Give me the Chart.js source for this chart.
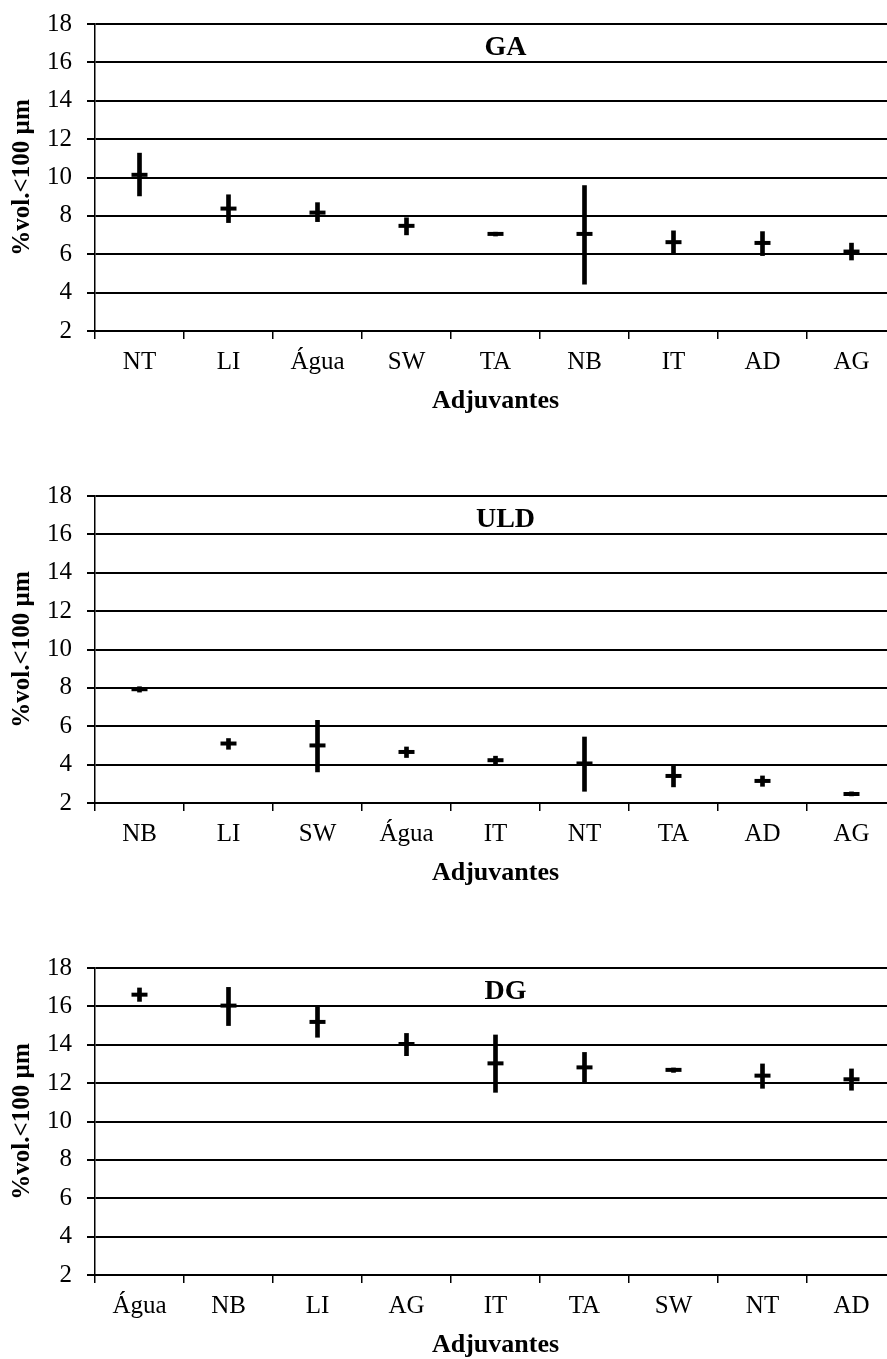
<!DOCTYPE html>
<html>
<head>
<meta charset="utf-8">
<script src="https://cdn.jsdelivr.net/npm/chart.js@4.4.1/dist/chart.umd.min.js"></script>
<style>
    body { margin: 0; background: #fff; width: 887px; overflow: hidden; }
    .panel { width: 887px; height: 472px; overflow: hidden; }
    canvas { display: block; }
</style>
</head>
<body>
<div class="panel"><canvas id="chartGA" width="896" height="472"></canvas></div>
<div class="panel"><canvas id="chartULD" width="896" height="472"></canvas></div>
<div class="panel"><canvas id="chartDG" width="896" height="472"></canvas></div>
<script>
// GA
const gaLabels = ['NT', 'LI', 'Água', 'SW', 'TA', 'NB', 'IT', 'AD', 'AG'];
const gaMean = [10.14, 8.38, 8.17, 7.48, 7.06, 7.06, 6.63, 6.59, 6.14];
const gaLow = [9.04, 7.65, 7.70, 7.01, 6.95, 4.44, 6.00, 5.93, 5.70];
const gaHigh = [11.27, 9.10, 8.69, 7.90, 7.15, 9.58, 7.22, 7.18, 6.58];

// ULD
const uldLabels = ['NB', 'LI', 'SW', 'Água', 'IT', 'NT', 'TA', 'AD', 'AG'];
const uldMean = [7.93, 5.10, 5.00, 4.66, 4.23, 4.06, 3.41, 3.15, 2.47];
const uldLow = [7.78, 4.80, 3.62, 4.37, 4.00, 2.61, 2.84, 2.87, 2.37];
const uldHigh = [8.06, 5.36, 6.31, 4.92, 4.44, 5.44, 3.97, 3.41, 2.58];

// DG
const dgLabels = ['Água', 'NB', 'LI', 'AG', 'IT', 'TA', 'SW', 'NT', 'AD'];
const dgMean = [16.61, 16.04, 15.19, 14.04, 13.03, 12.82, 12.69, 12.39, 12.20];
const dgLow = [16.26, 15.00, 14.39, 13.43, 11.52, 12.04, 12.56, 11.73, 11.63];
const dgHigh = [16.96, 16.99, 15.95, 14.59, 14.51, 13.60, 12.79, 13.00, 12.74];

const yTicks = [2, 4, 6, 8, 10, 12, 14, 16, 18];

const serif = "'Liberation Serif', 'Times New Roman', serif";

function makeChart(canvasId, title, labels, mean, low, high) {
    // draws the panel name (GA, ULD, DG) inside the plot area
    const panelTitle = {
        id: 'panelTitle',
        afterDatasetsDraw(chart) {
            const { ctx, chartArea } = chart;
            ctx.save();
            ctx.font = 'bold 28px ' + serif;
            ctx.fillStyle = '#000';
            ctx.textAlign = 'center';
            ctx.textBaseline = 'alphabetic';
            ctx.fillText(title, (chartArea.left + chartArea.right) / 2 + 10, chartArea.top + 31);
            ctx.restore();
        }
    };

    const ctx = document.getElementById(canvasId).getContext('2d');
    return new Chart(ctx, {
        type: 'bar',
        data: {
            labels: labels,
            datasets: [
                {
                    label: 'range',
                    data: low.map((l, i) => [l, high[i]]),
                    backgroundColor: '#000',
                    borderWidth: 0,
                    barThickness: 4,
                    order: 2
                },
                {
                    type: 'line',
                    label: 'mean',
                    data: mean,
                    showLine: false,
                    pointStyle: 'line',
                    pointRadius: 8,
                    pointBorderWidth: 4,
                    pointBorderColor: '#000',
                    pointBackgroundColor: '#000',
                    order: 1
                }
            ]
        },
        options: {
            responsive: false,
            animation: false,
            layout: { autoPadding: false, padding: { top: 24, bottom: 55, left: 0, right: 0 } },
            plugins: {
                legend: { display: false },
                tooltip: { enabled: false }
            },
            scales: {
                x: {
                    offset: true,
                    grid: {
                        offset: true,
                        drawOnChartArea: false,
                        drawTicks: true,
                        tickLength: 8,
                        color: '#000',
                        lineWidth: 1.5
                    },
                    border: { color: '#000', width: 2 },
                    ticks: {
                        color: '#000',
                        padding: 8,
                        font: { family: serif, size: 25 }
                    },
                    title: {
                        display: true,
                        text: 'Adjuvantes',
                        color: '#000',
                        padding: { top: 0, bottom: 0 },
                        font: { family: serif, size: 26, weight: 'bold' }
                    },
                    afterFit(scale) {
                        scale.height = 86;
                        scale.paddingLeft = 0;
                        scale.paddingRight = 0;
                    }
                },
                y: {
                    min: 2,
                    max: 18,
                    afterBuildTicks(scale) {
                        scale.ticks = yTicks.map(v => ({ value: v }));
                    },
                    grid: {
                        color: '#000',
                        lineWidth: 2,
                        tickLength: 8
                    },
                    border: { color: '#000', width: 1.5 },
                    ticks: {
                        color: '#000',
                        padding: 15,
                        font: { family: serif, size: 25 }
                    },
                    title: {
                        display: true,
                        text: '%vol.<100 µm',
                        color: '#000',
                        padding: { top: 8, bottom: 0 },
                        font: { family: serif, size: 25, weight: 'bold' }
                    },
                    afterFit(scale) {
                        scale.width = 95;
                        scale.paddingTop = 0;
                        scale.paddingBottom = 0;
                    }
                }
            }
        },
        plugins: [panelTitle]
    });
}

document.addEventListener('DOMContentLoaded', () => {
    makeChart('chartGA', 'GA', gaLabels, gaMean, gaLow, gaHigh);
    makeChart('chartULD', 'ULD', uldLabels, uldMean, uldLow, uldHigh);
    makeChart('chartDG', 'DG', dgLabels, dgMean, dgLow, dgHigh);
});
</script>
</body>
</html>
